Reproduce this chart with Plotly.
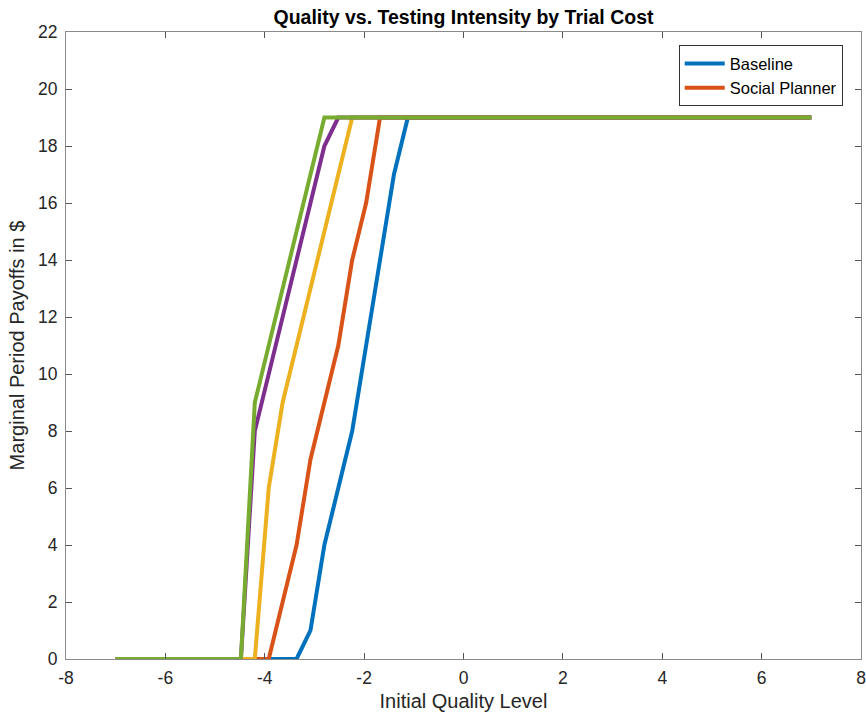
import plotly.graph_objects as go

# x grid: initial quality level (51 points from -7 to 7)
x_vals = [-7.0, -6.72, -6.44, -6.16, -5.88, -5.6, -5.32, -5.04, -4.76, -4.48,
          -4.2, -3.92, -3.64, -3.36, -3.08, -2.8, -2.52, -2.24, -1.96, -1.68,
          -1.4, -1.12, -0.84, -0.56, -0.28, 0.0, 0.28, 0.56, 0.84, 1.12,
          1.4, 1.68, 1.96, 2.24, 2.52, 2.8, 3.08, 3.36, 3.64, 3.92,
          4.2, 4.48, 4.76, 5.04, 5.32, 5.6, 5.88, 6.16, 6.44, 6.72, 7.0]

baseline = [0] * 13 + [0, 1, 4, 6, 8, 11, 14, 17, 19] + [19] * 29
social_planner = [0] * 11 + [0, 2, 4, 7, 9, 11, 14, 16, 19] + [19] * 31
series3 = [0] * 10 + [0, 6, 9, 11, 13, 15, 17, 19] + [19] * 33
series4 = [0] * 9 + [0, 8, 10, 12, 14, 16, 18, 19] + [19] * 34
series5 = [0] * 9 + [0, 9, 11, 13, 15, 17, 19] + [19] * 35

series = [
    ("Baseline", baseline, "#0072BD", True),
    ("Social Planner", social_planner, "#D95319", True),
    ("Series 3", series3, "#EDB120", False),
    ("Series 4", series4, "#7E2F8E", False),
    ("Series 5", series5, "#77AC30", False),
]

x_ticks = [-8, -6, -4, -2, 0, 2, 4, 6, 8]
x_ticktext = ["-8", "-6", "-4", "-2", "0", "2", "4", "6", "8"]
y_ticks = [0, 2, 4, 6, 8, 10, 12, 14, 16, 18, 20, 22]

FONT = "Liberation Sans, Arial, Helvetica"

fig = go.Figure()
for name, ys, color, show in series:
    fig.add_trace(go.Scatter(x=x_vals, y=ys, mode="lines", name=name,
                             line=dict(color=color, width=4),
                             showlegend=show))

axis_common = dict(showline=True, linecolor="#8a8a8a", linewidth=1,
                   mirror="ticks", ticks="inside", ticklen=6,
                   tickcolor="#555555", showgrid=False, zeroline=False,
                   automargin=False,
                   tickfont=dict(family=FONT, size=17.5, color="#262626"))

fig.update_layout(
    width=866, height=719,
    margin=dict(l=66, r=5, t=32, b=60),
    paper_bgcolor="white", plot_bgcolor="white",
    title=dict(text="<b>Quality vs. Testing Intensity by Trial Cost</b>",
               x=0.5, xref="paper", y=0.976, yref="container",
               xanchor="center", yanchor="middle",
               font=dict(family=FONT, size=19.5, color="black")),
    xaxis=dict(range=[-8, 8], tickvals=x_ticks, ticktext=x_ticktext,
               ticklabelstandoff=3,
               title=dict(text="Initial Quality Level", standoff=6,
                          font=dict(family=FONT, size=20, color="#262626")),
               **axis_common),
    yaxis=dict(range=[0, 22], tickvals=y_ticks, ticklabelstandoff=4,
               title=dict(text="Marginal Period Payoffs in $", standoff=8,
                          font=dict(family=FONT, size=20, color="#262626")),
               **axis_common),
    legend=dict(x=0.977, y=0.979, xanchor="right", yanchor="top",
                bgcolor="white", bordercolor="#333333", borderwidth=1,
                tracegroupgap=0, itemwidth=40,
                font=dict(family=FONT, size=16.5, color="black")),
)

fig.write_html("out.html")
